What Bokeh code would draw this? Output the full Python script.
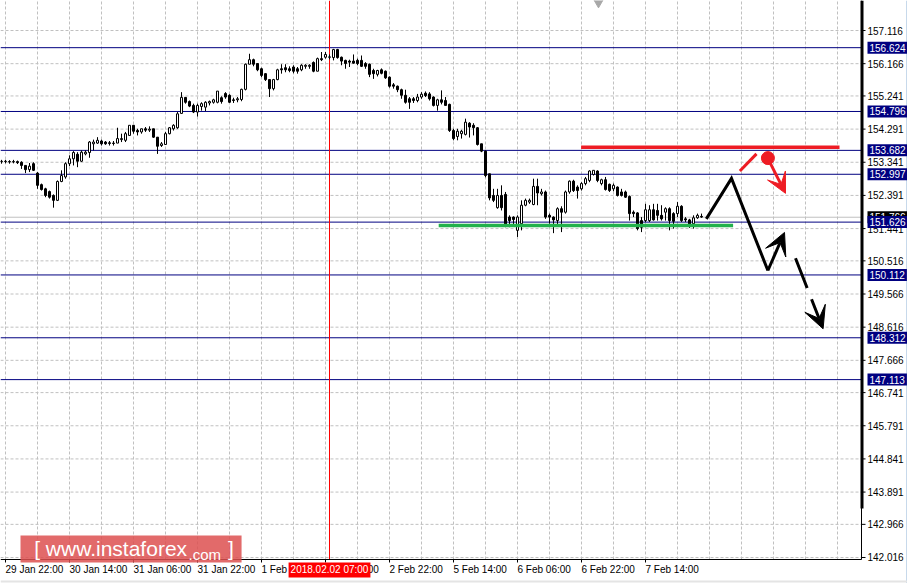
from bokeh.plotting import figure
from bokeh.models import Label, Arrow, VeeHead
from bokeh.core.properties import value
from bokeh.embed import file_html
from bokeh.resources import INLINE

# ---------------- data (H1 candles, bar index 0..175) ----------------
opens = [153.37,153.36,153.36,153.35,153.36,153.34,153.25,153.13,153.30,153.03,
         152.70,152.58,152.50,152.39,152.25,152.79,152.92,153.30,153.44,153.57,
         153.37,153.58,153.62,153.87,153.89,153.95,153.92,153.90,153.89,153.89,
         153.99,153.97,154.11,154.40,154.25,154.21,154.30,154.26,154.30,154.06,
         153.82,153.85,154.16,154.30,154.33,154.74,155.20,155.08,154.97,154.78,
         154.94,154.92,155.04,155.06,155.06,155.19,155.31,155.26,155.13,155.13,
         155.14,155.43,156.15,156.28,156.17,156.02,155.88,155.71,155.45,155.71,
         156.02,156.05,156.02,156.07,156.02,155.99,156.09,156.09,156.20,155.95,
         156.31,156.35,156.35,156.34,156.57,156.35,156.26,156.24,156.24,156.26,
         156.26,156.17,156.15,155.97,155.86,155.99,155.95,155.78,155.56,155.52,
         155.42,155.26,155.16,155.16,155.11,155.21,155.32,155.30,155.21,154.97,
         155.13,155.11,155.00,154.25,154.08,154.16,154.14,154.46,154.40,154.33,
         153.87,153.66,153.01,152.39,152.04,152.39,152.42,151.77,151.77,151.39,
         151.58,152.11,152.20,152.13,152.65,152.44,152.49,151.82,151.77,151.67,
         152.01,151.91,152.49,152.80,152.63,152.58,152.73,152.82,152.99,153.09,
         152.73,152.84,152.71,152.58,152.63,152.49,152.49,152.36,151.91,151.89,
         151.67,151.67,151.67,151.98,151.96,151.82,151.91,152.01,151.87,151.87,
         152.08,151.72,151.69,151.58,151.75,151.79]
highs = [153.41,153.41,153.40,153.41,153.39,153.37,153.25,153.32,153.34,153.06,
         152.73,152.61,152.53,152.42,152.82,153.11,153.34,153.54,153.66,153.63,
         153.68,153.68,153.95,153.99,154.06,153.99,153.95,153.95,153.95,154.33,
         154.16,154.21,154.40,154.40,154.30,154.30,154.35,154.37,154.30,154.06,
         153.92,154.21,154.35,154.43,154.78,155.35,155.21,155.11,155.02,155.02,
         155.06,155.09,155.11,155.16,155.38,155.23,155.35,155.29,155.19,155.21,
         155.45,156.17,156.45,156.31,156.18,156.05,155.89,155.71,155.73,156.02,
         156.15,156.15,156.09,156.12,156.07,156.15,156.15,156.15,156.23,156.34,
         156.50,156.50,156.43,156.59,156.59,156.37,156.28,156.28,156.43,156.31,
         156.40,156.21,156.17,156.02,155.99,156.03,155.97,155.80,155.61,155.54,
         155.45,155.42,155.21,155.21,155.30,155.35,155.37,155.35,155.23,155.16,
         155.40,155.21,155.02,154.30,154.30,154.27,154.59,154.49,154.46,154.35,
         153.87,153.68,153.01,152.58,152.58,152.68,152.49,151.82,151.79,151.82,
         152.25,152.30,152.30,152.87,152.87,152.58,152.53,151.87,151.79,152.05,
         152.08,152.53,152.82,152.84,152.68,152.77,152.92,153.11,153.11,153.11,
         152.87,152.92,152.73,152.73,152.65,152.58,152.53,152.39,151.96,151.91,
         151.77,152.15,152.11,152.15,152.15,152.11,152.05,152.05,151.91,152.20,
         152.11,151.77,151.72,151.82,151.87,151.87]
lows = [153.30,153.31,153.30,153.31,153.29,153.15,153.03,153.06,153.09,152.58,
        152.53,152.34,152.30,152.04,152.23,152.77,152.87,153.23,153.25,153.20,
        153.35,153.54,153.47,153.68,153.87,153.82,153.84,153.82,153.82,153.89,
        153.92,153.92,154.11,154.16,154.11,154.16,154.21,154.21,154.04,153.58,
        153.78,153.85,154.14,154.25,154.30,154.74,155.02,154.92,154.75,154.65,
        154.82,154.81,154.97,155.02,155.03,155.02,155.16,155.04,155.04,155.06,
        155.09,155.40,156.15,156.09,155.95,155.78,155.67,155.21,155.40,155.69,
        155.88,155.92,155.92,155.89,155.88,155.95,156.02,156.02,155.92,155.95,
        156.24,156.31,156.29,156.26,156.31,156.12,156.02,156.07,156.17,156.12,
        156.07,156.02,155.78,155.73,155.80,155.86,155.73,155.48,155.45,155.35,
        155.16,155.02,154.87,155.04,155.06,155.16,155.21,155.11,154.94,154.82,
        155.00,154.97,154.21,153.97,153.97,154.02,154.11,154.05,154.11,153.82,
        153.63,152.91,152.25,152.20,152.01,151.96,151.48,151.48,151.56,151.20,
        151.39,152.08,152.15,152.11,152.11,152.39,151.72,151.58,151.31,151.53,
        151.34,151.87,152.44,152.49,152.30,152.53,152.68,152.77,152.96,152.77,
        152.68,152.53,152.49,152.51,152.36,152.36,152.32,151.67,151.77,151.39,
        151.34,151.63,151.63,151.67,151.67,151.67,151.67,151.39,151.44,151.77,
        151.63,151.63,151.46,151.44,151.72,151.75]
closes = [153.36,153.37,153.35,153.36,153.33,153.25,153.13,153.23,153.11,152.68,
          152.56,152.39,152.34,152.25,152.79,152.96,153.30,153.44,153.62,153.37,
          153.63,153.63,153.92,153.92,153.97,153.87,153.87,153.88,153.88,154.02,
          154.02,154.16,154.40,154.23,154.21,154.30,154.26,154.29,154.06,153.80,
          153.87,154.16,154.33,154.40,154.73,155.20,155.06,154.95,154.78,154.97,
          155.02,155.06,155.08,155.13,155.38,155.08,155.21,155.06,155.11,155.16,
          155.43,156.15,156.28,156.15,155.99,155.83,155.71,155.45,155.71,155.99,
          155.99,155.99,155.97,155.95,155.95,156.12,156.12,156.12,155.95,156.31,
          156.28,156.43,156.36,156.57,156.34,156.24,156.17,156.21,156.18,156.17,
          156.09,156.09,155.86,155.88,155.97,155.89,155.76,155.52,155.52,155.42,
          155.26,155.06,155.06,155.11,155.21,155.29,155.25,155.16,154.97,155.13,
          155.06,154.97,154.25,154.02,154.23,154.23,154.49,154.35,154.33,153.85,
          153.66,152.96,152.32,152.25,152.39,152.04,151.53,151.67,151.70,151.77,
          152.11,152.25,152.25,152.65,152.46,152.49,151.77,151.77,151.69,152.01,
          151.91,152.49,152.80,152.53,152.53,152.73,152.87,153.09,153.11,152.82,
          152.84,152.56,152.53,152.68,152.39,152.39,152.34,151.87,151.87,151.44,
          151.48,151.98,151.98,151.69,151.82,151.72,152.01,151.67,151.65,152.08,
          151.67,151.69,151.56,151.75,151.82,151.77]

time_tick_bars = [1, 17, 33, 49, 65, 81, 97, 113, 129, 145, 161]
time_tick_labels = ["29 Jan 22:00", "30 Jan 14:00", "31 Jan 06:00", "31 Jan 22:00",
                    "1 Feb 14:00", "2 Feb 06:00", "2 Feb 22:00", "5 Feb 14:00",
                    "6 Feb 06:00", "6 Feb 22:00", "7 Feb 14:00"]
grid_bars = list(range(1, 215, 8))
price_ticks = [157.116, 156.166, 155.241, 154.291, 153.341, 152.391, 151.441,
               150.516, 149.566, 148.616, 147.666, 146.741, 145.791, 144.841,
               143.891, 142.966, 142.016]
levels = [156.624, 154.796, 153.682, 152.997, 151.626, 150.112, 148.312, 147.113]
bid_price = 151.766
crosshair_bar = 82
crosshair_label = "2018.02.02 07:00"
shift_marker_bar = 149.25

resist_x = [144.9, 209.5]
resist_y = [153.77, 153.77]
support_x = [109.3, 182.9]
support_y = [151.53, 151.53]
path_x = [176.2, 182.5, 191.6, 195.75]
path_y = [151.72, 152.88, 150.24, 151.33]
alt_x = [198.5, 205.4]
alt_y = [150.59, 148.57]
stop_x = [184.6, 188.75]
stop_y = [153.09, 153.58]
dot_x = [191.6]
dot_y = [153.46]
red_arrow_x = [192.25, 196.0]
red_arrow_y = [153.30, 152.45]

# ---------------- canvas / scales ----------------
X_LEFT, X_RIGHT = -0.25, 226.5          # whole canvas in bar units
Y_BOTTOM, Y_TOP = 141.271, 157.976      # whole canvas in price units
PLOT_RIGHT = 215.0                      # price-axis line
PLOT_BOTTOM = 141.959                   # time-axis line
PX_X = 0.25                             # one pixel in bar units
PX_Y = 0.028653                         # one pixel in price units
FONT = "Liberation Sans"
FS = "10px"

p = figure(width=907, height=583, x_range=(X_LEFT, X_RIGHT), y_range=(Y_BOTTOM, Y_TOP),
           output_backend="svg", toolbar_location=None,
           x_axis_location=None, y_axis_location=None,
           min_border=0, min_border_left=0, min_border_right=0,
           min_border_top=0, min_border_bottom=0)
p.outline_line_color = None
p.background_fill_color = "white"
p.border_fill_color = "white"
p.xgrid.visible = False
p.ygrid.visible = False

n_pt = len(price_ticks)
n_gb = len(grid_bars)
n_tt = len(time_tick_bars)
n_lv = len(levels)

# dashed grid
p.segment(x0=[X_LEFT] * n_pt, y0=price_ticks, x1=[PLOT_RIGHT] * n_pt, y1=price_ticks,
          line_color="#c0c0c0", line_width=1, line_dash="3 2")
p.segment(x0=grid_bars, y0=[PLOT_BOTTOM] * n_gb, x1=grid_bars, y1=[Y_TOP] * n_gb,
          line_color="#c0c0c0", line_width=1, line_dash="3 2")

# horizontal levels, bid line, crosshair
p.segment(x0=[X_LEFT] * n_lv, y0=levels, x1=[PLOT_RIGHT] * n_lv, y1=levels,
          line_color="#000080", line_width=1)
p.segment(x0=[X_LEFT], y0=[bid_price], x1=[PLOT_RIGHT], y1=[bid_price],
          line_color="#c0c0c0", line_width=1)
p.segment(x0=[crosshair_bar], y0=[PLOT_BOTTOM], x1=[crosshair_bar], y1=[Y_TOP],
          line_color="#ff0000", line_width=1)

# candles
idx = list(range(len(closes)))
up_x, up_top, up_bot, dn_x, dn_top, dn_bot = [], [], [], [], [], []
for i, o, c in zip(idx, opens, closes):
    if c >= o:
        up_x.append(i); up_top.append(c); up_bot.append(o)
    else:
        dn_x.append(i); dn_top.append(o); dn_bot.append(c)
p.segment(x0=idx, y0=lows, x1=idx, y1=highs, line_color="black", line_width=1)
p.vbar(x=up_x, top=up_top, bottom=up_bot, width=0.5, fill_color="white", line_color="black", line_width=1)
p.vbar(x=dn_x, top=dn_top, bottom=dn_bot, width=0.5, fill_color="black", line_color="black", line_width=1)

# analysis drawings
p.line(resist_x, resist_y, line_color="#ee1c24", line_width=3.5)
p.line(support_x, support_y, line_color="#22b14c", line_width=3.5)
p.line(path_x[:3], path_y[:3], line_color="black", line_width=3, line_join="miter")
p.add_layout(Arrow(end=VeeHead(size=22, fill_color="black", line_color="black"),
                   x_start=path_x[2], y_start=path_y[2], x_end=path_x[3], y_end=path_y[3],
                   line_color="black", line_width=3))
p.add_layout(Arrow(end=VeeHead(size=22, fill_color="black", line_color="black"),
                   x_start=alt_x[0], y_start=alt_y[0], x_end=alt_x[1], y_end=alt_y[1],
                   line_color="black", line_width=3, line_dash="32 12"))
p.line(stop_x, stop_y, line_color="#ee1c24", line_width=3)
p.scatter(dot_x, dot_y, size=13, color="#ee1c24")
p.add_layout(Arrow(end=VeeHead(size=20, fill_color="#ee1c24", line_color="#ee1c24"),
                   x_start=red_arrow_x[0], y_start=red_arrow_y[0], x_end=red_arrow_x[1], y_end=red_arrow_y[1],
                   line_color="#ee1c24", line_width=3))
p.scatter([shift_marker_bar], [Y_TOP - PX_Y], marker="inverted_triangle", size=11,
          color="#a8a8a8")

# ---------------- axes ----------------
# price axis (right)
p.segment(x0=[PLOT_RIGHT], y0=[PLOT_BOTTOM], x1=[PLOT_RIGHT], y1=[Y_TOP], line_color="black", line_width=1)
p.segment(x0=[PLOT_RIGHT + 0.5 * PX_X], y0=[Y_TOP - 508 * PX_Y], x1=[PLOT_RIGHT + 0.5 * PX_X], y1=[Y_TOP],
          line_color="black", line_width=3)
p.segment(x0=[PLOT_RIGHT] * n_pt, y0=price_ticks, x1=[PLOT_RIGHT + 4 * PX_X] * n_pt, y1=price_ticks,
          line_color="black", line_width=1)
p.text(x=[PLOT_RIGHT + 6 * PX_X] * n_pt, y=price_ticks, text=[f"{t:.3f}" for t in price_ticks],
       text_font=value(FONT), text_font_size=value(FS), text_color="black",
       text_align="left", text_baseline="middle")
# time axis (bottom)
p.segment(x0=[X_LEFT], y0=[PLOT_BOTTOM], x1=[PLOT_RIGHT], y1=[PLOT_BOTTOM], line_color="black", line_width=1)
p.segment(x0=time_tick_bars, y0=[PLOT_BOTTOM] * n_tt, x1=time_tick_bars, y1=[PLOT_BOTTOM - 3 * PX_Y] * n_tt,
          line_color="black", line_width=1)
p.text(x=time_tick_bars, y=[PLOT_BOTTOM - 10.5 * PX_Y] * n_tt, text=time_tick_labels,
       text_font=value(FONT), text_font_size=value(FS), text_color="black",
       text_align="left", text_baseline="middle")

# window edges
p.segment(x0=[X_RIGHT - 0.75 * PX_X], y0=[Y_BOTTOM], x1=[X_RIGHT - 0.75 * PX_X], y1=[Y_TOP],
          line_color="#b4cce4", line_width=1)
p.segment(x0=[X_LEFT], y0=[Y_BOTTOM + 2 * PX_Y], x1=[X_RIGHT], y1=[Y_BOTTOM + 2 * PX_Y],
          line_color="#e4e4e4", line_width=2)

# price labels on axis
p.add_layout(Label(x=PLOT_RIGHT + 6 * PX_X, y=bid_price, text=f"{bid_price:.3f}", text_font=FONT,
                   text_font_size=FS, text_color="white", text_baseline="middle",
                   background_fill_color="black", padding=2))
for lv in levels:
    p.add_layout(Label(x=PLOT_RIGHT + 6 * PX_X, y=lv, text=f"{lv:.3f}", text_font=FONT,
                       text_font_size=FS, text_color="white", text_baseline="middle",
                       background_fill_color="#000080", padding=2))

# crosshair time label
p.add_layout(Label(x=crosshair_bar, y=PLOT_BOTTOM - 10.5 * PX_Y, text=crosshair_label, text_font=FONT,
                   text_font_size=FS, text_color="white", text_align="center",
                   text_baseline="middle", background_fill_color="#ff0000", padding=2))

# watermark
NB = "\u00a0"
p.add_layout(Label(x=4.75, y=Y_TOP - 548.5 * PX_Y, text=NB * 2 + "[" + NB + "www.instaforex" + NB * 7 + "]" + NB,
                   text_font=FONT, text_font_size="21px", text_color="white",
                   text_baseline="middle", background_fill_color="#dd5050",
                   background_fill_alpha=0.85, padding=2))
p.add_layout(Label(x=46.75, y=Y_TOP - 554.5 * PX_Y, text=".com", text_font=FONT, text_font_size="15px",
                   text_color="white", text_baseline="alphabetic"))

open("out.html", "w").write(file_html(p, INLINE))
